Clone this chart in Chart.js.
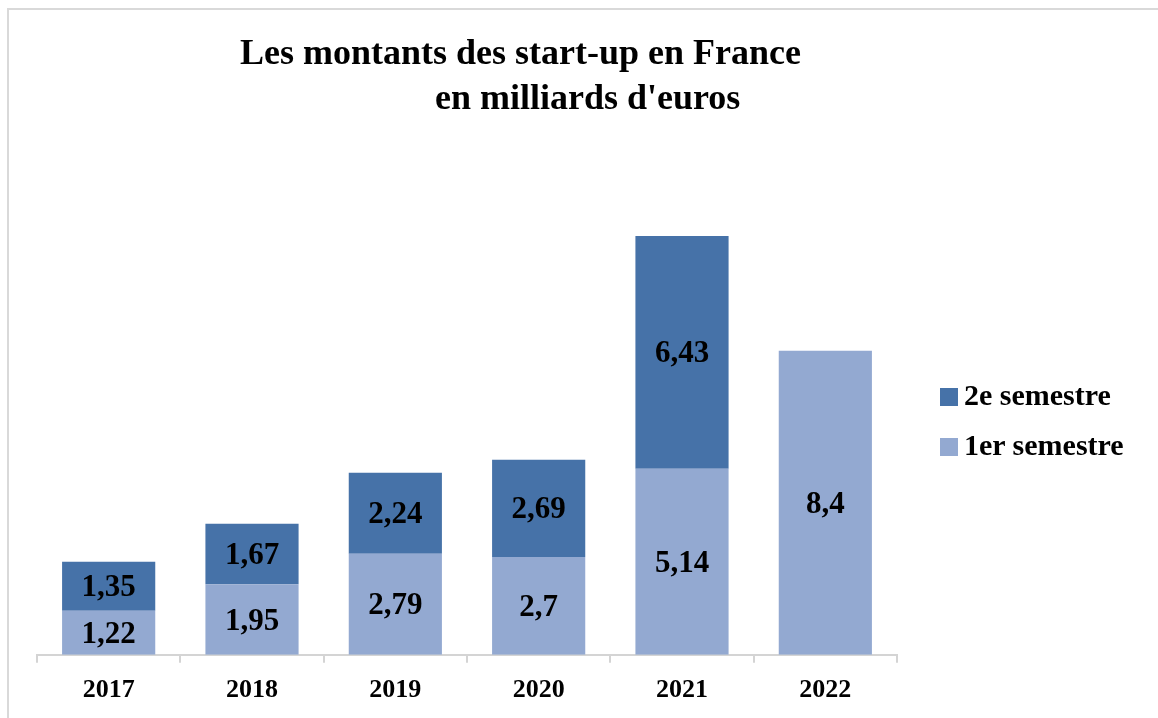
<!DOCTYPE html>
<html>
<head>
<meta charset="utf-8">
<script src="https://cdn.jsdelivr.net/npm/chart.js@4"></script>
<style>
    html, body { margin: 0; padding: 0; background: #fff; }
    #cadre { position: relative; width: 1158px; height: 718px; overflow: hidden; font-family: 'Liberation Serif', 'Times New Roman', serif; }
    #bordure { position: absolute; left: 7px; top: 8px; width: 1200px; height: 800px; border-top: 2px solid #d9d9d9; border-left: 2px solid #d9d9d9; }
    #doThi { position: absolute; left: 0; top: 0; }
    .titre { position: absolute; font-weight: bold; font-size: 36px; line-height: 36px; white-space: nowrap; color: #000; }
    #legende { position: absolute; left: 940px; top: 380px; }
    .ligneLegende { position: relative; height: 50px; font-weight: bold; font-size: 30px; line-height: 30px; white-space: nowrap; }
    .carre { position: absolute; left: 0; top: 8px; width: 18px; height: 18px; }
    .texteLegende { position: absolute; left: 24px; top: 0; }
</style>
</head>
<body>
<div id="cadre">
    <div id="bordure"></div>
    <canvas id="doThi" width="1158" height="718"></canvas>
    <div class="titre" style="left:240px; top:34px;">Les montants des start-up en France</div>
    <div class="titre" style="left:435px; top:79px;">en milliards d'euros</div>
    <div id="legende"></div>
</div>
<script>
// Du lieu bieu do
var _annees = ['2017', '2018', '2019', '2020', '2021', '2022'];
var _semestre1 = [1.22, 1.95, 2.79, 2.7, 5.14, 8.4];
var _semestre2 = [1.35, 1.67, 2.24, 2.69, 6.43, null];
var _nomSeries = ['1er semestre', '2e semestre'];
var _couleurs = ['#93A9D1', '#4672A8'];

var _myChart = null;

// plugin ghi gia tri vao giua cot
var nhanGiaTri = {
    id: 'nhanGiaTri',
    afterDatasetsDraw: function (chart) {
        var ctx = chart.ctx;
        ctx.save();
        ctx.font = 'bold 31px "Liberation Serif"';
        ctx.fillStyle = '#000';
        ctx.textAlign = 'center';
        ctx.textBaseline = 'middle';
        chart.data.datasets.forEach(function (ds, i) {
            var meta = chart.getDatasetMeta(i);
            meta.data.forEach(function (bar, j) {
                var v = ds.data[j];
                if (v === null || v === undefined) return;
                ctx.fillText(String(v).replace('.', ','), bar.x, (bar.y + bar.base) / 2 + 2);
            });
        });
        ctx.restore();
    }
};

function veLegende() {
    var html = '';
    for (var i = _nomSeries.length - 1; i >= 0; i--) {
        html += '<div class="ligneLegende"><span class="carre" style="background:' + _couleurs[i] + '"></span>' +
            '<span class="texteLegende">' + _nomSeries[i] + '</span></div>';
    }
    document.getElementById('legende').innerHTML = html;
}

function renderDoThi() {
    var ctx = document.getElementById('doThi').getContext('2d');
    _myChart = new Chart(ctx, {
        type: 'bar',
        data: {
            labels: _annees,
            datasets: [{
                label: _nomSeries[0],
                data: _semestre1,
                backgroundColor: _couleurs[0],
                borderWidth: 0
            }, {
                label: _nomSeries[1],
                data: _semestre2,
                backgroundColor: _couleurs[1],
                borderWidth: 0
            }]
        },
        options: {
            responsive: false,
            animation: false,
            layout: { padding: { left: 37, right: 261, top: 112, bottom: 0 } },
            plugins: {
                legend: { display: false },
                title: { display: false },
                tooltip: { enabled: false }
            },
            datasets: { bar: { barPercentage: 1, categoryPercentage: 0.65 } },
            scales: {
                x: {
                    stacked: true,
                    grid: { display: true, drawOnChartArea: false, drawTicks: true, tickLength: 8, color: '#d4d4d4', lineWidth: 2 },
                    border: { display: true, color: '#d4d4d4', width: 2 },
                    ticks: { color: '#000', padding: 12, font: { family: 'Liberation Serif', size: 26, weight: 'bold' } }
                },
                y: {
                    stacked: true,
                    display: false,
                    min: 0,
                    max: 15
                }
            }
        },
        plugins: [nhanGiaTri]
    });
}

veLegende();
renderDoThi();
</script>
</body>
</html>
